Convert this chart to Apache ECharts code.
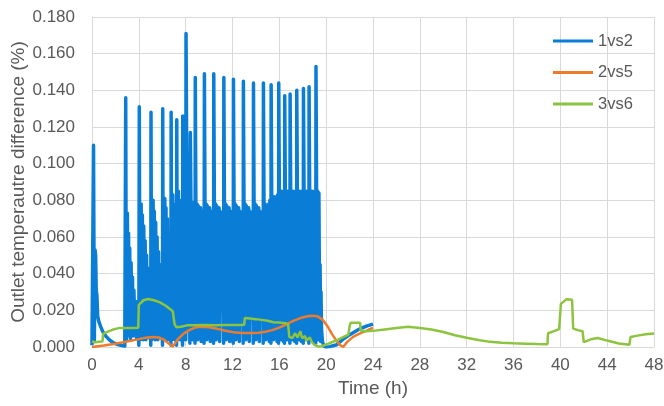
<!DOCTYPE html>
<html>
<head>
<meta charset="utf-8">
<script src="https://cdn.jsdelivr.net/npm/echarts@6.0.0/dist/echarts.min.js"></script>
<style>
html,body{margin:0;padding:0;background:#fff;}
#chart{width:664px;height:406px;}
</style>
</head>
<body>
<div id="chart"></div>
<script>
var seriesNames = ['1vs2', '2vs5', '3vs6'];
var yAxisTitle = 'Outlet temperautre difference (%)';
var xAxisTitle = 'Time (h)';

// [time (h), difference (%)]
var data1vs2 = [
[0.00,0.001],[0.05,0.002],[0.13,0.110],[0.20,0.003],[0.26,0.053],[0.31,0.050],[0.36,0.031],[0.42,0.028],[0.48,0.017],[0.58,0.014],[0.75,0.011],[0.95,0.008],[1.2,0.0058],[1.5,0.0038],[1.85,0.0022],[2.2,0.0013],[2.55,0.0008],[2.8,0.0005],
[2.84,0.001],[2.88,0.136],[2.93,0.004],[3.02,0.073],[3.07,0.006],[3.12,0.062],[3.17,0.010],[3.22,0.054],[3.28,0.004],[3.34,0.046],[3.40,0.012],[3.46,0.038],[3.52,0.006],[3.58,0.031],[3.65,0.012],[3.72,0.025],[3.80,0.005],[3.88,0.019],[3.95,0.008],
[4.00,0.001],[4.04,0.131],[4.09,0.004],[4.20,0.078],[4.25,0.010],[4.30,0.072],[4.36,0.004],[4.42,0.066],[4.48,0.014],[4.54,0.058],[4.60,0.004],[4.66,0.050],[4.72,0.012],[4.78,0.043],[4.84,0.005],[4.90,0.035],[4.96,0.012],[5.00,0.027],
[5.02,0.001],[5.04,0.128],[5.09,0.004],[5.22,0.080],[5.27,0.010],[5.32,0.074],[5.38,0.004],[5.44,0.068],[5.50,0.014],[5.56,0.060],[5.62,0.004],[5.68,0.052],[5.74,0.012],[5.80,0.045],[5.86,0.005],[5.92,0.037],[5.98,0.012],
[6.02,0.001],[6.04,0.130],[6.09,0.004],[6.22,0.081],[6.27,0.012],[6.32,0.076],[6.38,0.004],[6.44,0.070],[6.50,0.014],[6.56,0.062],[6.62,0.004],[6.68,0.054],[6.72,0.014],
[6.74,0.001],[6.76,0.128],[6.81,0.004],[6.90,0.083],[6.95,0.012],[7.00,0.078],[7.06,0.004],[7.12,0.070],[7.17,0.014],[7.21,0.062],
[7.22,0.001],[7.24,0.124],[7.29,0.004],[7.38,0.085],[7.43,0.012],[7.48,0.080],[7.54,0.004],[7.60,0.072],[7.66,0.014],[7.71,0.064],
[7.73,0.001],[7.75,0.126],[7.80,0.004],[7.86,0.080],[7.91,0.012],[7.96,0.075],[8.01,0.004],
[8.03,0.171],[8.08,0.117],[8.18,0.117],[8.22,0.010],[8.27,0.080],[8.32,0.030],[8.36,0.002],[8.40,0.117],[8.45,0.080],[8.50,0.030],[8.55,0.079],[8.60,0.004],[8.65,0.078],[8.70,0.028],[8.75,0.077],[8.80,0.002],
[8.82,0.147],[8.87,0.080],[8.92,0.030],[8.97,0.078],[9.02,0.004],[9.07,0.077],[9.12,0.028],[9.17,0.076],[9.22,0.025],[9.27,0.076],[9.32,0.003],[9.37,0.074],[9.42,0.030],[9.47,0.072],[9.52,0.025],[9.57,0.002],
[9.60,0.149],[9.65,0.080],[9.70,0.030],[9.75,0.078],[9.80,0.004],[9.85,0.077],[9.90,0.028],[9.95,0.076],[10.00,0.025],[10.05,0.076],[10.10,0.003],[10.15,0.074],[10.20,0.030],[10.25,0.072],[10.30,0.025],[10.34,0.070],[10.38,0.002],
[10.40,0.149],[10.45,0.080],[10.50,0.030],[10.55,0.078],[10.60,0.004],[10.65,0.077],[10.70,0.028],[10.75,0.076],[10.80,0.025],[10.85,0.076],[10.90,0.003],[10.95,0.074],[11.00,0.030],[11.05,0.072],[11.10,0.025],[11.15,0.070],[11.20,0.028],[11.24,0.002],
[11.26,0.147],[11.31,0.080],[11.36,0.030],[11.41,0.078],[11.46,0.004],[11.51,0.077],[11.56,0.028],[11.61,0.076],[11.66,0.025],[11.71,0.076],[11.76,0.003],[11.81,0.074],[11.86,0.030],[11.91,0.072],[11.96,0.025],[12.01,0.070],[12.06,0.002],
[12.08,0.146],[12.13,0.080],[12.18,0.030],[12.23,0.078],[12.28,0.004],[12.33,0.077],[12.38,0.028],[12.43,0.076],[12.48,0.025],[12.53,0.076],[12.58,0.003],[12.63,0.074],[12.68,0.030],[12.73,0.072],[12.78,0.025],[12.83,0.070],[12.87,0.028],[12.91,0.002],
[12.93,0.145],[12.98,0.080],[13.03,0.030],[13.08,0.078],[13.13,0.004],[13.18,0.077],[13.23,0.028],[13.28,0.076],[13.33,0.025],[13.38,0.076],[13.43,0.003],[13.48,0.074],[13.53,0.030],[13.58,0.072],[13.63,0.025],[13.68,0.070],[13.72,0.028],[13.77,0.002],
[13.79,0.144],[13.84,0.080],[13.89,0.030],[13.94,0.078],[13.99,0.004],[14.04,0.077],[14.09,0.028],[14.14,0.076],[14.19,0.025],[14.24,0.076],[14.29,0.003],[14.34,0.074],[14.39,0.030],[14.44,0.072],[14.49,0.025],[14.54,0.070],[14.58,0.028],[14.62,0.002],
[14.64,0.144],[14.69,0.080],[14.74,0.030],[14.79,0.078],[14.84,0.004],[14.89,0.077],[14.94,0.028],[14.99,0.076],[15.04,0.025],[15.09,0.078],[15.14,0.003],[15.19,0.080],[15.24,0.030],[15.28,0.002],
[15.30,0.143],[15.35,0.083],[15.40,0.030],[15.45,0.082],[15.50,0.004],[15.55,0.082],[15.60,0.028],[15.65,0.081],[15.70,0.025],[15.75,0.082],[15.80,0.003],[15.85,0.083],[15.90,0.030],[15.93,0.002],
[15.95,0.144],[16.00,0.086],[16.05,0.030],[16.10,0.085],[16.15,0.004],[16.20,0.085],[16.25,0.028],[16.30,0.084],[16.35,0.003],[16.40,0.085],[16.44,0.002],
[16.46,0.137],[16.51,0.086],[16.56,0.030],[16.61,0.085],[16.66,0.004],[16.71,0.085],[16.76,0.028],[16.81,0.084],[16.86,0.025],[16.90,0.002],
[16.92,0.138],[16.97,0.086],[17.02,0.030],[17.07,0.085],[17.12,0.004],[17.17,0.085],[17.22,0.028],[17.27,0.084],[17.32,0.003],[17.37,0.085],[17.42,0.025],[17.47,0.002],
[17.49,0.140],[17.54,0.086],[17.59,0.030],[17.64,0.085],[17.69,0.004],[17.74,0.085],[17.79,0.028],[17.84,0.084],[17.89,0.003],[17.94,0.085],[17.99,0.025],[18.04,0.002],
[18.06,0.141],[18.11,0.086],[18.16,0.030],[18.21,0.085],[18.26,0.004],[18.31,0.085],[18.36,0.028],[18.41,0.084],[18.46,0.025],[18.52,0.002],
[18.54,0.142],[18.59,0.086],[18.64,0.030],[18.69,0.085],[18.74,0.004],[18.79,0.085],[18.84,0.028],[18.89,0.084],[18.94,0.003],[18.99,0.085],[19.04,0.025],[19.11,0.002],
[19.13,0.153],[19.18,0.086],[19.23,0.030],[19.28,0.085],[19.33,0.004],[19.38,0.084],[19.43,0.025],[19.48,0.045],[19.53,0.003],[19.56,0.030],[19.60,0.010],[19.68,0.003],[19.80,0.0005],
[20.0,0.0],[20.3,0.0002],[20.9,0.0012],[21.4,0.004],[21.9,0.0062],[22.3,0.0078],[22.7,0.0093],[23.1,0.0105],[23.5,0.0115],[24.0,0.0125]
];

var data2vs5 = [
[0,0.0],[1,0.0008],[2,0.0018],[3,0.003],[4,0.0043],[4.6,0.0051],[5.2,0.0055],[5.7,0.0052],[6.1,0.0042],[6.5,0.0022],[6.9,0.0002],[7.3,0.004],[7.8,0.0072],[8.3,0.0092],[8.8,0.0106],[9.3,0.011],[10,0.0108],[10.7,0.0099],[11.4,0.0089],[12.1,0.0081],[12.8,0.0077],[13.5,0.0076],[14.2,0.0078],[14.8,0.0083],[15.4,0.0092],[16,0.0106],[16.6,0.0124],[17.2,0.0142],[17.8,0.0158],[18.4,0.0168],[18.9,0.0171],[19.3,0.0166],[19.7,0.0148],[20.1,0.0115],[20.5,0.007],[20.9,0.0032],[21.2,0.001],[21.45,0.0],[21.8,0.0028],[22.3,0.0055],[22.8,0.0072],[23.4,0.0088],[24,0.0105]
];

var data3vs6 = [
[0,0.003],[0.3,0.0026],[0.6,0.0028],[0.9,0.003],[0.95,0.0072],[1.3,0.0082],[1.8,0.0095],[2.3,0.0103],[2.8,0.0104],[3.4,0.0104],[3.95,0.0105],[4.0,0.023],[4.4,0.0255],[4.8,0.0262],[5.3,0.0255],[5.8,0.0243],[6.3,0.0225],[6.9,0.0195],[7.05,0.0125],[7.2,0.0108],[7.6,0.011],[8.1,0.0118],[8.6,0.0118],[9.5,0.012],[10.5,0.0119],[11.5,0.012],[12.5,0.012],[13.0,0.0122],[13.05,0.0158],[13.5,0.0155],[14.0,0.0152],[14.5,0.0148],[15.0,0.0143],[15.5,0.0135],[16.0,0.0133],[16.5,0.013],[16.75,0.0125],[16.85,0.0055],[17.1,0.0048],[17.35,0.0075],[17.55,0.0052],[17.8,0.0085],[17.95,0.0048],[18.2,0.006],[18.3,0.0035],[18.6,0.0052],[18.8,0.0025],[19.0,0.0012],[19.3,0.0003],[19.6,0.0004],[20.2,0.0018],[20.8,0.0034],[21.4,0.0052],[21.9,0.0068],[22.0,0.0078],[22.02,0.012],[22.1,0.0132],[22.9,0.0132],[22.95,0.0088],[23.4,0.0086],[24,0.0088],[25,0.0096],[26,0.0104],[27,0.011],[28,0.0104],[29,0.0095],[30,0.0082],[31,0.0064],[32,0.005],[33,0.0038],[34,0.0028],[35,0.0023],[36,0.002],[37,0.0018],[38,0.0016],[38.9,0.0015],[38.95,0.0075],[39.4,0.0085],[39.9,0.0098],[40.0,0.0103],[40.05,0.0235],[40.5,0.026],[41.0,0.0258],[41.1,0.010],[41.5,0.0092],[41.9,0.0086],[42.0,0.0027],[42.6,0.0042],[43.2,0.0049],[44,0.0035],[45,0.0019],[45.9,0.0012],[46.0,0.0055],[46.6,0.0062],[47.3,0.007],[48,0.0074]
];

var xMin = 0, xMax = 48, xStep = 4;
var yMin = 0, yMax = 0.18, yStep = 0.02;

var colors = ['#0a7ed6', '#ee7a2c', '#8cc43e'];
var font = "'Liberation Sans', Arial, sans-serif";
var textColor = '#595959';
var gridColor = '#d9d9d9';

var chart = echarts.init(document.getElementById('chart'), null, {renderer: 'canvas'});
chart.setOption({
  animation: false,
  backgroundColor: '#ffffff',
  color: colors,
  textStyle: {fontFamily: font},
  grid: {left: 92, right: 10, top: 17, bottom: 59, containLabel: false, outerBoundsMode: 'none'},
  legend: {
    data: seriesNames,
    orient: 'vertical',
    left: 553, top: 31, padding: 0,
    icon: 'rect', itemWidth: 40, itemHeight: 3, itemGap: 11.5,
    textStyle: {fontSize: 16.5, color: textColor, fontFamily: font, lineHeight: 20}
  },
  xAxis: {
    type: 'value', min: xMin, max: xMax, interval: xStep,
    name: xAxisTitle, nameLocation: 'middle', nameGap: 32, nameMoveOverlap: false,
    nameTextStyle: {fontSize: 19, color: textColor, fontFamily: font},
    axisLine: {show: true, lineStyle: {color: gridColor, width: 1}},
    axisTick: {show: false},
    axisLabel: {fontSize: 17, color: textColor, margin: 10, fontFamily: font},
    splitLine: {show: true, lineStyle: {color: gridColor, width: 1}}
  },
  yAxis: {
    type: 'value', min: yMin, max: yMax, interval: yStep,
    name: yAxisTitle, nameLocation: 'middle', nameGap: 64, nameMoveOverlap: false,
    nameTextStyle: {fontSize: 19, color: textColor, fontFamily: font},
    axisLine: {show: true, lineStyle: {color: gridColor, width: 1}},
    axisTick: {show: false},
    axisLabel: {fontSize: 17, color: textColor, margin: 17, fontFamily: font,
      formatter: function (v) { return v.toFixed(3); }},
    splitLine: {show: true, lineStyle: {color: gridColor, width: 1}}
  },
  series: [
    {name: seriesNames[0], type: 'line', data: data1vs2, showSymbol: false, symbol: 'none', sampling: null,
     lineStyle: {width: 3.5, color: colors[0], join: 'round'}, z: 2},
    {name: seriesNames[1], type: 'line', data: data2vs5, showSymbol: false, symbol: 'none',
     lineStyle: {width: 2.5, color: colors[1]}, z: 3},
    {name: seriesNames[2], type: 'line', data: data3vs6, showSymbol: false, symbol: 'none',
     lineStyle: {width: 2.5, color: colors[2]}, z: 4}
  ]
});
</script>
</body>
</html>
